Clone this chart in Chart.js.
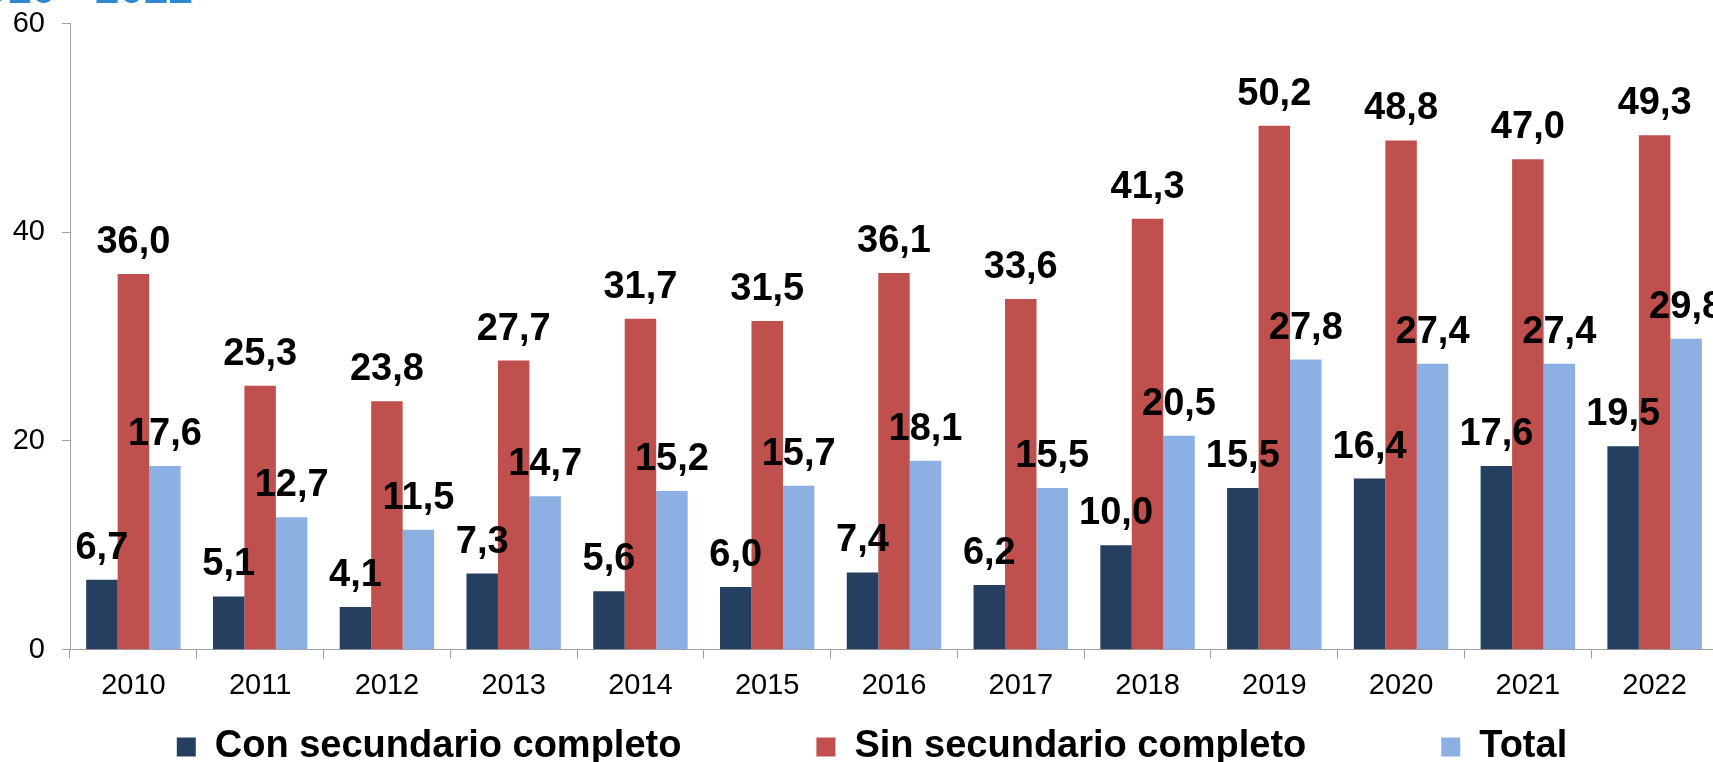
<!DOCTYPE html>
<html>
<head>
<meta charset="utf-8">
<script src="https://cdn.jsdelivr.net/npm/chart.js@4/dist/chart.umd.min.js"></script>
<style>
  html, body { margin: 0; padding: 0; background: #ffffff; overflow: hidden; width: 1713px; height: 762px; }
  #wrap { position: relative; width: 1718px; height: 762px; }
  #title { position: absolute; right: calc(1718px - 193px); top: -34px; font: bold 44px "Liberation Sans", Arial, sans-serif; line-height: 44px; color: #3088D0; white-space: nowrap; }
  canvas { position: absolute; left: 0; top: 0; }
</style>
</head>
<body>
<div id="wrap">
  <canvas id="c" width="1718" height="762"></canvas>
  <div id="title">2010 - 2022</div>
</div>
<script>
const categories = ["2010","2011","2012","2013","2014","2015","2016","2017","2018","2019","2020","2021","2022"];
const seriesNames = ["Con secundario completo", "Sin secundario completo", "Total"];
const conSecundario = [6.7, 5.1, 4.1, 7.3, 5.6, 6.0, 7.4, 6.2, 10.0, 15.5, 16.4, 17.6, 19.5];
const sinSecundario = [36.0, 25.3, 23.8, 27.7, 31.7, 31.5, 36.1, 33.6, 41.3, 50.2, 48.8, 47.0, 49.3];
const total = [17.6, 12.7, 11.5, 14.7, 15.2, 15.7, 18.1, 15.5, 20.5, 27.8, 27.4, 27.4, 29.8];
const yTicks = [0, 20, 40, 60];
const colors = ["#243F60", "#C0504D", "#8DB0E2"];

const FONT = '"Liberation Sans", Arial, sans-serif';
const LEGEND_PAD = 135;

const dataLabels = {
  id: 'dataLabels',
  afterDatasetsDraw(chart) {
    const ctx = chart.ctx;
    ctx.save();
    ctx.font = 'bold 38px ' + FONT;
    ctx.fillStyle = '#000000';
    ctx.textAlign = 'center';
    ctx.textBaseline = 'alphabetic';
    chart.data.datasets.forEach((ds, i) => {
      const meta = chart.getDatasetMeta(i);
      meta.data.forEach((bar, j) => {
        const v = ds.data[j];
        ctx.fillText(v.toFixed(1).replace('.', ','), bar.x, bar.y - 21);
      });
    });
    ctx.restore();
  }
};

const legendPlacer = {
  id: 'legendPlacer',
  afterLayout(chart) {
    const lg = chart.legend;
    if (!lg) return;
    const cx = 872;
    lg.left = cx - 3000;
    lg.right = cx + 3000;
    lg.top = 728 - LEGEND_PAD;
    lg.bottom = 762;
  }
};

new Chart(document.getElementById('c'), {
  type: 'bar',
  data: {
    labels: categories,
    datasets: [
      { label: seriesNames[0], data: conSecundario, backgroundColor: colors[0] },
      { label: seriesNames[1], data: sinSecundario, backgroundColor: colors[1] },
      { label: seriesNames[2], data: total, backgroundColor: colors[2] }
    ]
  },
  options: {
    responsive: false,
    animation: false,
    layout: { padding: { top: 15, left: 0, right: 0, bottom: 0 } },
    datasets: { bar: { barPercentage: 1.0, categoryPercentage: 0.745 } },
    plugins: {
      legend: {
        position: 'bottom',
        maxHeight: 48.5,
        labels: {
          boxWidth: 19,
          boxHeight: 19,
          padding: LEGEND_PAD,
          color: '#000000',
          font: { family: FONT, size: 38, weight: 'bold' }
        }
      },
      tooltip: { enabled: false },
      title: { display: false }
    },
    scales: {
      x: {
        grid: { display: true, drawOnChartArea: false, drawTicks: true, tickLength: 9, color: '#A0A0A0', offset: true },
        border: { display: true, color: '#A0A0A0', width: 1 },
        ticks: { color: '#000000', font: { family: FONT, size: 29 }, padding: 10, maxRotation: 0, autoSkip: false }
      },
      y: {
        min: 0,
        max: 60,
        afterBuildTicks(scale) { scale.ticks = yTicks.map(v => ({ value: v })); },
        afterFit(scale) { scale.width = 70; },
        grid: { display: true, drawOnChartArea: false, drawTicks: true, tickLength: 8, color: '#A0A0A0' },
        border: { display: true, color: '#A0A0A0', width: 1 },
        ticks: { color: '#000000', font: { family: FONT, size: 29, lineHeight: 0.45 }, padding: 17 }
      }
    }
  },
  plugins: [dataLabels, legendPlacer]
});
</script>
</body>
</html>
